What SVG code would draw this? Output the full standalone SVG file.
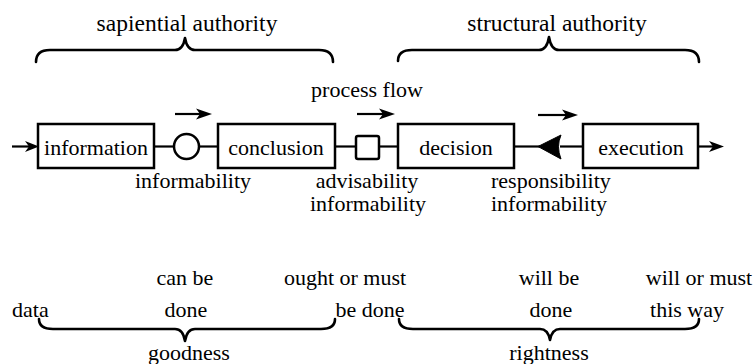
<svg xmlns="http://www.w3.org/2000/svg" width="756" height="364" viewBox="0 0 756 364">
<style>
text{font-family:'Liberation Serif','Times New Roman',serif;font-size:22px;fill:#000}
.h{font-size:23.5px}
.c{text-anchor:middle}
.box{fill:#fff;stroke:#000;stroke-width:2.5}
.ln{fill:none;stroke:#000;stroke-width:2.2}
.br{fill:none;stroke:#000;stroke-width:2.6;stroke-linecap:round;stroke-linejoin:round}
.ah{fill:#000}
</style>
<rect width="756" height="364" fill="#fff"/>
<g id="labels">
<text class="c h" x="187" y="31">sapiential authority</text>
<text class="c h" x="557" y="31">structural authority</text>
<text class="c" x="367" y="97">process flow</text>
<text class="c" x="193" y="188">informability</text>
<text class="c" x="367" y="188">advisability</text>
<text class="c" x="368" y="211">informability</text>
<text x="491" y="188">responsibility</text>
<text x="491" y="211">informability</text>
<text x="12" y="317">data</text>
<text class="c" x="185" y="285">can be</text>
<text class="c" x="186" y="317">done</text>
<text class="c" x="345" y="285">ought or must</text>
<text class="c" x="370" y="317">be done</text>
<text class="c" x="549" y="285">will be</text>
<text class="c" x="551" y="317">done</text>
<text class="c" x="699" y="285">will or must</text>
<text class="c" x="687" y="317">this way</text>
<text class="c" x="189" y="360">goodness</text>
<text class="c" x="549" y="360">rightness</text>
</g>
<g id="braces">
<path class="br" d="M36,62 Q36,50 50,50 L175,50 Q183,50 185,38 Q187,50 195,50 L319,50 Q333,50 333,62"/>
<path class="br" d="M398,61 Q398,50 412,50 L539,50 Q547,50 549,37 Q551,50 559,50 L685,50 Q699,50 699,62"/>
<path class="br" d="M39,319 Q39,329 53,329 L175,329 Q183,329 185,341 Q187,329 195,329 L321,329 Q335,329 335,319"/>
<path class="br" d="M399,319 Q399,329 413,329 L540,329 Q548,329 550,340 Q552,329 560,329 L685,329 Q699,329 699,319"/>
</g>
<g id="connectors">
<line class="ln" x1="12" y1="146.5" x2="34" y2="146.5"/>
<path class="ah" d="M39,146.5 L25,141 L29,146.5 L25,152 Z"/>
<line class="ln" x1="154" y1="146.5" x2="174" y2="146.5"/>
<line class="ln" x1="199" y1="146.5" x2="218" y2="146.5"/>
<line class="ln" x1="335" y1="146.5" x2="356" y2="146.5"/>
<line class="ln" x1="379" y1="146.5" x2="398" y2="146.5"/>
<line class="ln" x1="514" y1="146.5" x2="540" y2="146.5"/>
<line class="ln" x1="560" y1="146.5" x2="583" y2="146.5"/>
<line class="ln" x1="698" y1="146.5" x2="718" y2="146.5"/>
<path class="ah" d="M724,146.5 L709,141 L713,146.5 L709,152 Z"/>
<line class="ln" x1="175" y1="114" x2="200" y2="114"/>
<path class="ah" d="M212,114 L196,108.5 L200,114 L196,119.5 Z"/>
<line class="ln" x1="357" y1="114" x2="383" y2="114"/>
<path class="ah" d="M395,114 L379,108.5 L383,114 L379,119.5 Z"/>
<line class="ln" x1="538" y1="115" x2="566" y2="115"/>
<path class="ah" d="M578,115 L562,109.5 L566,115 L562,120.5 Z"/>
</g>
<g id="information"><rect class="box" x="38" y="124" width="116" height="44"/><text class="c" x="96" y="155">information</text></g>
<g id="circle"><circle cx="186.5" cy="146.5" r="12.5" fill="#fff" stroke="#000" stroke-width="2.5"/></g>
<g id="conclusion"><rect class="box" x="218" y="124" width="117" height="44"/><text class="c" x="276" y="155">conclusion</text></g>
<g id="square"><rect class="box" x="356" y="136" width="23" height="23" rx="2"/></g>
<g id="decision"><rect class="box" x="398" y="124" width="116" height="44"/><text class="c" x="456" y="155">decision</text></g>
<g id="triangle"><path d="M538,146.5 L561,135 Q556,146.5 561,159 Z" fill="#000" stroke="#000" stroke-width="1"/></g>
<g id="execution"><rect class="box" x="583" y="124" width="115" height="44"/><text class="c" x="641" y="155">execution</text></g>
</svg>
